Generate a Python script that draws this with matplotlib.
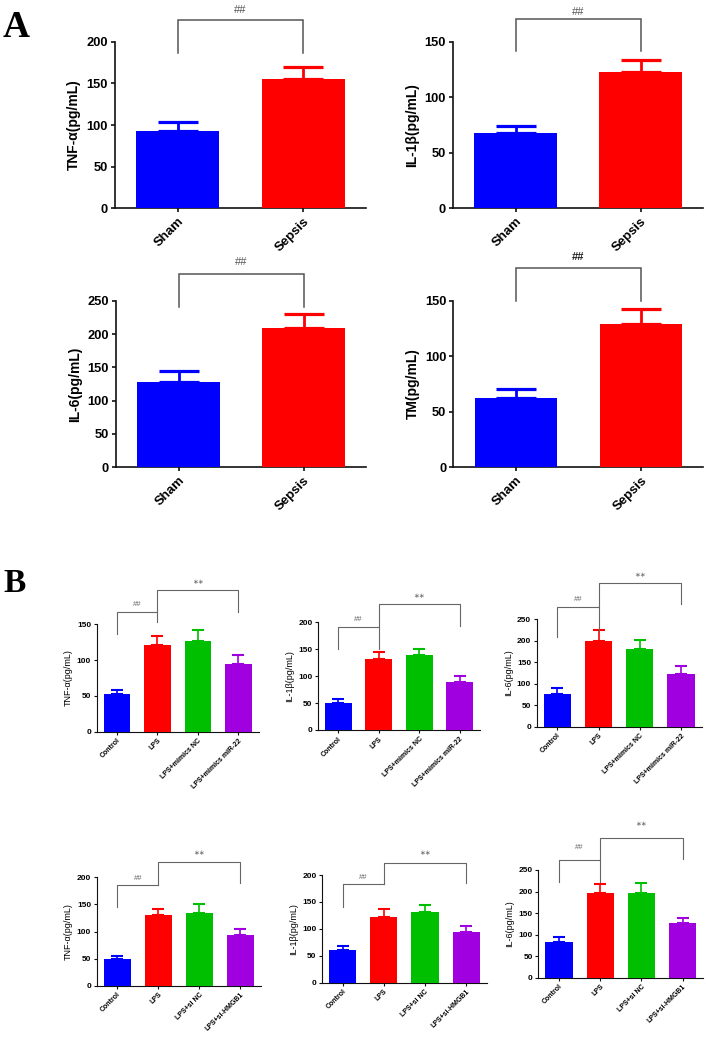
import matplotlib
matplotlib.use("Agg")
import matplotlib.pyplot as plt
import numpy as np

plt.rcParams['font.family'] = ['Liberation Sans', 'DejaVu Sans']

# ---------------- data ----------------
a_groups = ["Sham", "Sepsis"]
a_tnf_mean = [92.8, 155.0]
a_tnf_err = [11.2, 14.5]
a_il1b_mean = [67.5, 122.6]
a_il1b_err = [6.5, 11.1]
a_il6_mean = [128.4, 208.9]
a_il6_err = [15.6, 21.1]
a_tm_mean = [62.4, 129.0]
a_tm_err = [8.3, 13.7]

b_mimic_groups = ["Control", "LPS", "LPS+mimics NC", "LPS+mimics miR-22"]
b_mimic_tnf_mean = [52.6, 120.7, 126.7, 94.1]
b_mimic_tnf_err = [5.6, 12.5, 14.9, 13.0]
b_mimic_il1b_mean = [50.0, 131.5, 139.5, 89.0]
b_mimic_il1b_err = [8.3, 13.4, 11.7, 11.0]
b_mimic_il6_mean = [76.6, 198.2, 179.7, 123.0]
b_mimic_il6_err = [12.5, 25.6, 20.8, 17.9]

b_si_groups = ["Control", "LPS", "LPS+si NC", "LPS+si-HMGB1"]
b_si_tnf_mean = [48.7, 131.0, 134.1, 93.5]
b_si_tnf_err = [6.7, 11.1, 16.1, 10.5]
b_si_il1b_mean = [60.7, 121.4, 130.7, 93.6]
b_si_il1b_err = [8.0, 16.0, 14.1, 11.1]
b_si_il6_mean = [82.2, 195.9, 197.3, 126.3]
b_si_il6_err = [11.6, 21.6, 21.8, 13.0]

a_colors = ["#0000FF", "#FF0000"]
b_colors = ["#0000FF", "#FF0000", "#00BE00", "#A000E0"]

W, H = 706, 1041
fig = plt.figure(figsize=(W / 100, H / 100), dpi=100)


def add_ax(x0, y0, x1, y1):
    return fig.add_axes([x0 / W, 1 - y1 / H, (x1 - x0) / W, (y1 - y0) / H])


def draw_panel(ax, groups, means, errs, colors, ymax, step, ylabel, big):
    n = len(groups)
    x = np.arange(n)
    ax.bar(x, means, width=0.66, color=colors, zorder=3)
    lw_e = 2.0 if big else 1.2
    cap = 14.5 if big else 4.6
    for i in range(n):
        ax.errorbar(x[i], means[i], yerr=[[0], [errs[i]]], fmt='none',
                    ecolor=colors[i], elinewidth=lw_e, capsize=cap,
                    capthick=lw_e + 0.3, zorder=2, clip_on=False)
    ax.set_xlim(-0.5, n - 0.5)
    ax.set_ylim(0, ymax)
    ax.set_yticks(np.arange(0, ymax + 1, step))
    ax.set_xticks(x)
    for s in ['top', 'right']:
        ax.spines[s].set_visible(False)
    if big:
        sw, tl, tw = 1.2, 3.0, 1.2
        ax.set_xticklabels(groups, rotation=45, ha='right',
                           rotation_mode='anchor', fontsize=9.5,
                           fontweight='bold')
        ax.tick_params(axis='y', labelsize=9.3)
        for t in ax.get_yticklabels():
            t.set_fontweight('bold')
        ax.set_ylabel(ylabel, fontsize=10, fontweight='bold', labelpad=4)
    else:
        sw, tl, tw = 0.8, 2.0, 0.8
        ax.set_xticklabels(groups, rotation=45, ha='right',
                           rotation_mode='anchor', fontsize=5,
                           fontweight='bold')
        ax.tick_params(axis='y', labelsize=6)
        for t in ax.get_yticklabels():
            t.set_fontweight('bold')
        ax.set_ylabel(ylabel, fontsize=6.5, labelpad=3)
    for s in ['left', 'bottom']:
        ax.spines[s].set_linewidth(sw)
        ax.spines[s].set_color('#111111')
    ax.tick_params(direction='out', length=tl, width=tw, pad=2,
                   color='#111111')


def bracket(ax, x0, x1, ytop, yl, yr, lw, color='#555555'):
    ax.plot([x0, x0, x1, x1], [yl, ytop, ytop, yr], color=color, lw=lw,
            clip_on=False, zorder=4, solid_joinstyle='miter')


# ---------------- panel A ----------------
a_specs = [
    ((115, 41.7, 366, 208.3), a_tnf_mean, a_tnf_err, 200, "TNF-α(pg/mL)", (225.7, 186.7, 238.5)),
    ((453, 41.7, 703, 208.3), a_il1b_mean, a_il1b_err, 150, "IL-1β(pg/mL)", (170.8, 141.2, 176.5)),
    ((116, 300.7, 366, 467.3), a_il6_mean, a_il6_err, 250, "IL-6(pg/mL)", (289.9, 240.9, 308.3)),
    ((453.3, 300.7, 703.3, 467.3), a_tm_mean, a_tm_err, 150, "TM(pg/mL)", (179.0, 150.0, 189.5)),
]
for k, (rect, m, e, ymax, lab, br) in enumerate(a_specs):
    ax = add_ax(*rect)
    draw_panel(ax, a_groups, m, e, a_colors, ymax, 50, lab, True)
    bracket(ax, 0, 1, br[0], br[1], br[1], 1.1)
    ax.text(0.5, br[2], "##", ha='center', va='center',
            fontsize=8, color='#222222' if k == 3 else '#555555',
            fontweight='bold' if k == 3 else 'normal', clip_on=False)

# ---------------- panel B ----------------
b_specs = [
    ((96.7, 624.3, 258.7, 731.7), b_mimic_groups, b_mimic_tnf_mean, b_mimic_tnf_err, 150, "TNF-α(pg/mL)",
     (167.0, 136.0, 198.0, 153.6, 167.7, 177.0, 209.6)),
    ((318, 622.3, 480, 730), b_mimic_groups, b_mimic_il1b_mean, b_mimic_il1b_err, 200, "IL-1β(pg/mL)",
     (190.7, 150.4, 233.4, 150.4, 193.7, 204.3, 249.4)),
    ((536.7, 619, 701.7, 726.7), b_mimic_groups, b_mimic_il6_mean, b_mimic_il6_err, 250, "IL-6(pg/mL)",
     (278.6, 208.9, 332.9, 220.5, 284.1, 295.6, 352.2)),
    ((96.7, 877.3, 261, 985.7), b_si_groups, b_si_tnf_mean, b_si_tnf_err, 200, "TNF-α(pg/mL)",
     (185.8, 145.8, 227.7, 185.8, 188.9, 198.3, 244.4)),
    ((322, 875, 486.7, 982.7), b_si_groups, b_si_il1b_mean, b_si_il1b_err, 200, "IL-1β(pg/mL)",
     (182.7, 141.0, 223.0, 182.7, 184.6, 195.0, 240.3)),
    ((538.3, 870, 703.3, 977.7), b_si_groups, b_si_il6_mean, b_si_il6_err, 250, "IL-6(pg/mL)",
     (272.5, 222.8, 323.6, 222.8, 274.8, 301.8, 356.1)),
]
for rect, g, m, e, ymax, lab, br in b_specs:
    ax = add_ax(*rect)
    draw_panel(ax, g, m, e, b_colors, ymax, 50, lab, False)
    hh_top, hh_left, ss_top, lps_bot, ss_right, hh_txt, ss_txt = br
    # ## bracket (Control vs LPS)
    ax.plot([0, 0, 1], [hh_left, hh_top, hh_top], color='#666666', lw=0.8,
            clip_on=False, zorder=4)
    # LPS leg and ** bracket (LPS vs last group)
    ax.plot([1, 1, 3, 3], [lps_bot, ss_top, ss_top, ss_right], color='#666666',
            lw=0.8, clip_on=False, zorder=4)
    ax.text(0.5, hh_txt, "##", ha='center', va='center', fontsize=5.5,
            color='#666666', clip_on=False)
    ax.text(2, ss_txt, "∗∗", ha='center', va='center', fontsize=5,
            color='#666666', clip_on=False, family=['DejaVu Sans'])

fig.text(3 / W, 1 - 36.7 / H, "A", fontsize=27, fontweight='bold',
         family='Liberation Serif', ha='left', va='baseline')
fig.text(3 / W, 1 - 592.3 / H, "B", fontsize=24, fontweight='bold',
         family='Liberation Serif', ha='left', va='baseline')

fig.savefig("out.png", dpi=100, facecolor='white')
